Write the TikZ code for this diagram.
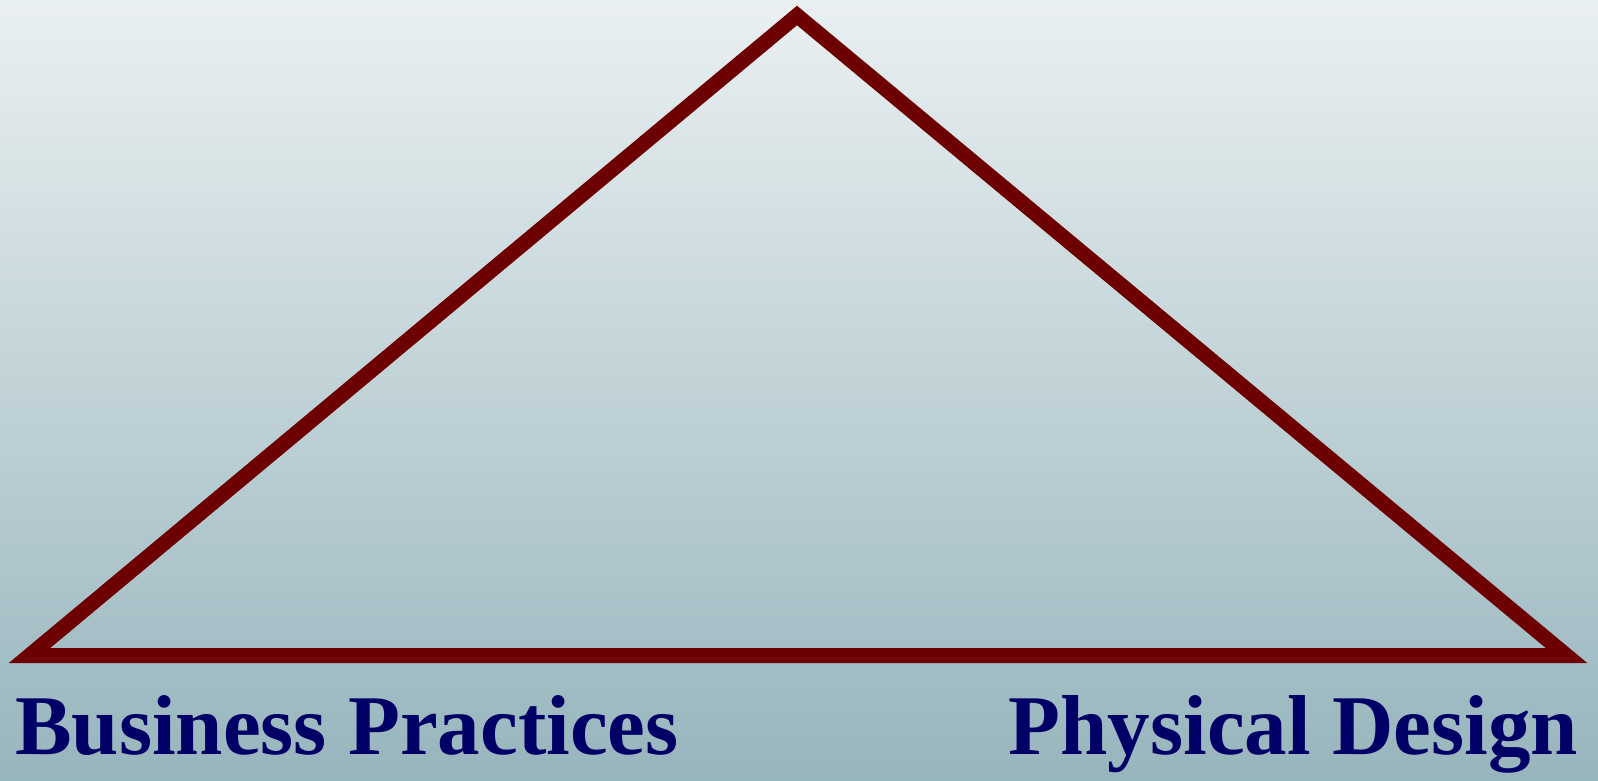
\documentclass[tikz,border=0pt]{standalone}
\usepackage{fontspec}
\setmainfont{Liberation Serif}
\definecolor{skyTop}{RGB}{234,240,241}
\definecolor{skyBottom}{RGB}{151,181,189}
\definecolor{edgeRed}{RGB}{109,0,0}
\definecolor{labelNavy}{RGB}{0,0,102}
\tikzset{
  edge/.style={draw=edgeRed, line width=15pt, line join=miter},
  cornerlabel/.style={text=labelNavy, font=\fontsize{85}{90}\selectfont\bfseries, inner sep=0pt},
}
\begin{document}
\begin{tikzpicture}[x=1pt,y=-1pt]
\useasboundingbox (0,0) rectangle (1598,780);
% background
\shade[top color=skyTop, bottom color=skyBottom] (0,0) rectangle (1598,780);
% corners of the triangle
\coordinate (apex) at (797,15.5);
\coordinate (left) at (29.5,655.5);
\coordinate (right) at (1566.5,655.5);
\draw[edge] (left) -- (apex) -- (right) -- cycle;
% labels
\node[cornerlabel, anchor=base west] (business) at (15,754) {Business Practices};
\node[cornerlabel, anchor=base east] (physical) at (1578,754) {Physical Design};
\end{tikzpicture}
\end{document}
